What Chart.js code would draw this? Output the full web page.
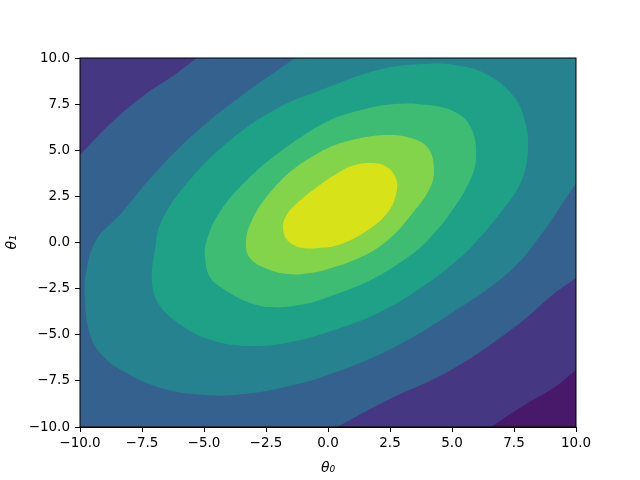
<!DOCTYPE html>
<html>
<head>
<meta charset="utf-8">
<script src="https://cdn.jsdelivr.net/npm/chart.js@4"></script>
<style>
  html, body { margin: 0; padding: 0; background: #fff; }
</style>
</head>
<body>
<canvas id="contourChart" width="640" height="480"></canvas>
<script>
const ctx = document.getElementById("contourChart").getContext("2d");

const xTicks = [-10, -7.5, -5, -2.5, 0, 2.5, 5, 7.5, 10];
const yTicks = [-10, -7.5, -5, -2.5, 0, 2.5, 5, 7.5, 10];

// viridis bands, outermost (lowest) first
const bandColors = ["#48186a", "#453781", "#34618d", "#26828e", "#1fa188", "#3fbc73", "#84d44b", "#d8e219"];

// contour boundaries, [theta0, theta1]
// (points past +-10 only close the shapes outside the axes)
const level2 = [[5.5, -11], [6.57, -10], [8.06, -8.7], [9.15, -7.83], [10, -6.91], [11, -5.9],
  [12, 12], [-12, 12], [-12, -12], [5.5, -11]];
const level3 = [[-10.8, 3.6], [-10, 4.74], [-8.75, 6.48], [-7.3, 8.1], [-6.2, 9.08], [-5.3, 10], [-4.4, 10.9],
  [12, 12], [11, -0.9], [10, -1.92], [9.15, -2.74], [7.54, -4.58], [4.96, -6.91], [2.42, -8.54], [0.36, -10],
  [-0.8, -10.8], [-12, -12], [-10.8, 3.6]];
const level4 = [[-1.33, 10], [-3.45, 7.99], [-5.45, 5.83], [-7.05, 3.66], [-8.4, 1.49], [-9.35, 0.14],
  [-9.76, -1.65], [-9.8, -3.12], [-9.62, -4.91], [-9.19, -5.99], [-8.35, -6.91], [-6.73, -7.89], [-4.96, -8.27],
  [-3.35, -8.21], [-1.73, -7.83], [0, -7.18], [2.7, -5.66], [5.36, -3.5], [7.26, -1.65], [8.35, -0.03],
  [10, 3.22], [10.8, 4.9], [11.5, 11.5], [-0.3, 10.9], [-1.33, 10]];
const level5 = [[-0.08, 8.37], [-2.02, 7.29], [-4.03, 5.45], [-5.65, 3.28], [-6.73, 1.11], [-6.98, -0.41],
  [-7.1, -2.03], [-6.85, -3.28], [-6.05, -4.36], [-4.72, -5.28], [-3.1, -5.61], [-1.49, -5.39], [0, -4.85],
  [2.02, -3.82], [4.03, -2.2], [5.36, -0.79], [5.93, -0.03], [6.98, 1.65], [7.78, 3.28], [8.06, 4.91],
  [7.98, 6.37], [7.54, 7.83], [6.45, 9.08], [5.12, 9.62], [3.75, 9.67], [2.02, 9.35], [-0.08, 8.37]];
const level6 = [[-0.08, 6.53], [-1.73, 5.12], [-3.35, 3.28], [-4.44, 1.49], [-4.92, -0.03], [-4.96, -0.79],
  [-4.76, -1.87], [-4.15, -2.57], [-3.23, -3.22], [-2.3, -3.5], [-0.93, -3.33], [0, -2.95], [1.73, -2.03],
  [3.23, -0.79], [4.03, 0.14], [4.96, 1.65], [5.77, 3.5], [5.97, 4.74], [5.77, 6.21], [5.12, 7.07],
  [4.03, 7.45], [2.7, 7.51], [1.33, 7.18], [-0.08, 6.53]];
const level7 = [[0, 5.12], [-1.33, 4.04], [-2.42, 2.57], [-3.1, 1.11], [-3.31, -0.03], [-3.15, -0.84],
  [-2.54, -1.38], [-1.61, -1.71], [-0.69, -1.65], [0, -1.44], [1.33, -0.79], [2.42, 0.14], [3.35, 1.49],
  [4.11, 2.95], [4.27, 4.04], [4.03, 5.12], [3.35, 5.66], [2.42, 5.83], [1.33, 5.66], [0, 5.12]];
const level8 = [[-1.82, 0.84], [-1.73, 0.3], [-1.45, -0.08], [-1.01, -0.3], [-0.4, -0.3], [0.4, -0.14],
  [1.49, 0.57], [2.42, 1.65], [2.78, 2.85], [2.7, 3.6], [2.3, 4.15], [1.69, 4.31], [1.09, 4.2], [0.6, 3.93],
  [-0.44, 3.01], [-1.41, 1.92], [-1.73, 1.33], [-1.82, 0.84]];

const levels = [level2, level3, level4, level5, level6, level7, level8];

// the second point is repeated at the end so the spline closes without a kink
const datasets = levels.map((pts, i) => ({
  data: pts.concat([pts[1]]).map((p) => ({ x: p[0], y: p[1] })),
  showLine: true,
  fill: "shape",
  backgroundColor: bandColors[i + 1],
  borderWidth: 0,
  pointRadius: 0,
  tension: 0.4,
  order: levels.length - i,
}));

const tickFont = { family: "DejaVu Sans", size: 13.5 };
const fmt = (v) => Number(v).toFixed(1).replace("-", "\u2212");

const background = {
  id: "background",
  beforeDraw(chart) {
    const { ctx, chartArea: a } = chart;
    ctx.save();
    ctx.fillStyle = "#fff";
    ctx.fillRect(0, 0, chart.width, chart.height);
    ctx.fillStyle = bandColors[0];
    ctx.fillRect(a.left, a.top, a.right - a.left, a.bottom - a.top);
    ctx.restore();
  },
  afterDraw(chart) {
    const { ctx, chartArea: a } = chart;
    ctx.save();
    ctx.strokeStyle = "#000";
    ctx.lineWidth = 1;
    ctx.strokeRect(a.left, a.top, a.right - a.left, a.bottom - a.top);
    ctx.restore();
  },
};

const contourChart = new Chart(ctx, {
  type: "scatter",
  data: { datasets },
  plugins: [background],
  options: {
    responsive: false,
    animation: false,
    devicePixelRatio: 1,
    layout: { padding: { left: 0, right: 64, top: 58, bottom: 0 } },
    elements: { line: { capBezierPoints: false } },
    plugins: {
      legend: { display: false },
      tooltip: { enabled: false },
    },
    scales: {
      x: {
        type: "linear",
        min: -10,
        max: 10,
        afterBuildTicks: (s) => { s.ticks = xTicks.map((v) => ({ value: v })); },
        afterFit: (s) => { s.height = 53; },
        ticks: { color: "#000", font: tickFont, padding: 3, maxRotation: 0, autoSkip: false, callback: fmt },
        grid: { drawOnChartArea: false, drawTicks: true, tickLength: 5, color: "#000", tickWidth: 1 },
        border: { display: true, color: "#000", width: 1 },
        title: {
          display: true,
          text: "\u03b8\u2080",
          color: "#000",
          font: { family: "DejaVu Sans", size: 14, style: "italic" },
          padding: { top: 0, bottom: 3 },
        },
      },
      y: {
        type: "linear",
        min: -10,
        max: 10,
        afterBuildTicks: (s) => { s.ticks = yTicks.map((v) => ({ value: v })); },
        afterFit: (s) => { s.width = 80; },
        ticks: { color: "#000", font: tickFont, padding: 5, autoSkip: false, callback: fmt },
        grid: { drawOnChartArea: false, drawTicks: true, tickLength: 5, color: "#000", tickWidth: 1 },
        border: { display: true, color: "#000", width: 1 },
        title: {
          display: true,
          text: "\u03b8\u2081",
          color: "#000",
          font: { family: "DejaVu Sans", size: 14, style: "italic" },
          padding: { top: 4, bottom: 0 },
        },
      },
    },
  },
});
</script>
</body>
</html>
